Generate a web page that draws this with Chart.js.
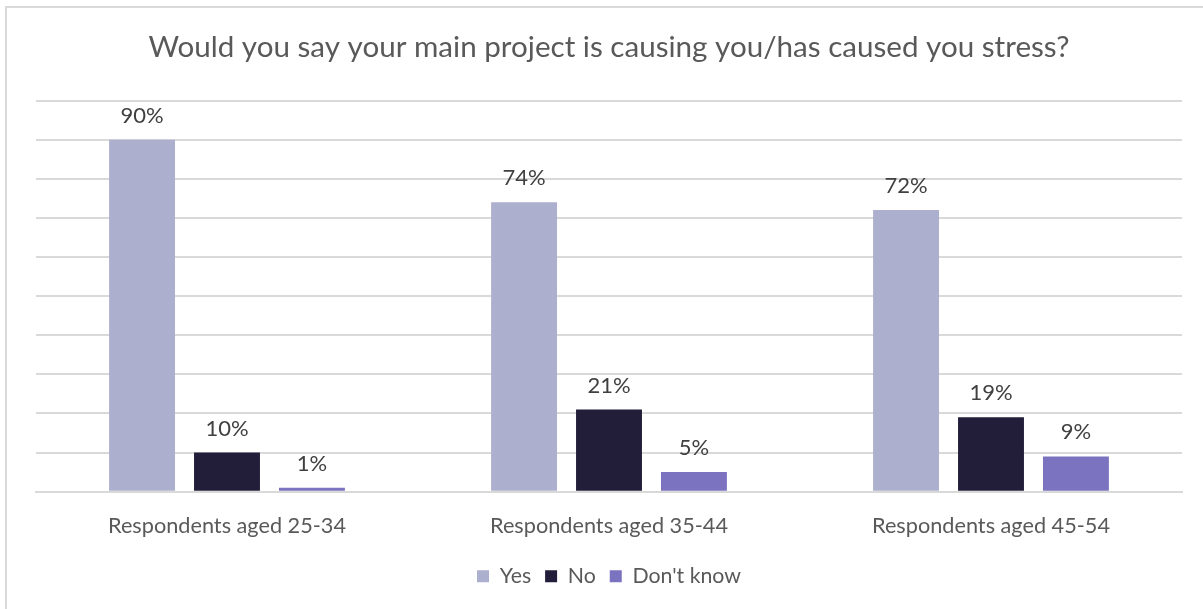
<!DOCTYPE html>
<html>
<head>
<meta charset="utf-8">
<script src="https://cdn.jsdelivr.net/npm/chart.js@4.4.0/dist/chart.umd.min.js"></script>
<style>
    html, body { margin: 0; padding: 0; background: #fff; overflow: hidden; }
    #wrap { position: relative; width: 1203px; height: 609px; }
    #frame {
        position: absolute; left: 5px; top: 6px; width: 1220px; height: 620px;
        border-top: 2px solid #d9d9d9; border-left: 2px solid #d9d9d9;
    }
    canvas { position: absolute; left: 0; top: 0; }
</style>
</head>
<body>
<div id="wrap">
    <div id="frame"></div>
    <canvas id="chart" width="1203" height="609"></canvas>
</div>
<script>
const CATEGORIES = ["Respondents aged 25-34", "Respondents aged 35-44", "Respondents aged 45-54"];
const YES = [90, 74, 72];
const NO = [10, 21, 19];
const DONT_KNOW = [1, 5, 9];
const SERIES_NAMES = ["Yes", "No", "Don't know"];
const COLORS = ["#adafce", "#221d38", "#7b73c0"];
const FONT = "Lato, 'Open Sans', sans-serif";

const valueLabels = {
    id: "valueLabels",
    afterDatasetsDraw(chart) {
        const ctx = chart.ctx;
        ctx.save();
        ctx.font = "22px " + FONT;
        ctx.fillStyle = "#404040";
        ctx.textAlign = "center";
        ctx.textBaseline = "alphabetic";
        chart.data.datasets.forEach((ds, i) => {
            const meta = chart.getDatasetMeta(i);
            meta.data.forEach((bar, j) => {
                ctx.fillText(ds.data[j] + "%", bar.x, bar.y - 17);
            });
        });
        ctx.restore();
    }
};

const datasets = [YES, NO, DONT_KNOW].map((values, i) => ({
    label: SERIES_NAMES[i],
    data: values,
    backgroundColor: COLORS[i],
    borderWidth: 0,
    categoryPercentage: 0.667,
    barPercentage: 0.776
}));

new Chart(document.getElementById("chart"), {
    type: "bar",
    data: { labels: CATEGORIES, datasets },
    plugins: [valueLabels],
    options: {
        responsive: false,
        animation: false,
        layout: { padding: { left: 36, right: 21, top: 22, bottom: 12 } },
        plugins: {
            title: {
                display: true,
                text: "Would you say your main project is causing you/has caused you stress?",
                color: "#595959",
                font: { family: FONT, size: 29.6, weight: "normal" },
                padding: { top: 8, bottom: 35 }
            },
            legend: {
                position: "bottom",
                labels: {
                    color: "#595959",
                    font: { family: FONT, size: 21.3 },
                    boxWidth: 12,
                    boxHeight: 12,
                    padding: 14
                }
            },
            tooltip: { enabled: false }
        },
        scales: {
            x: {
                grid: { display: false },
                border: { color: "#d9d9d9", width: 2 },
                ticks: { color: "#595959", font: { family: FONT, size: 21.7 }, padding: 13 }
            },
            y: {
                min: 0,
                max: 100,
                ticks: { display: false, stepSize: 10 },
                border: { display: false },
                grid: { color: "#d9d9d9", lineWidth: 2, drawTicks: false }
            }
        }
    }
});
</script>
</body>
</html>
